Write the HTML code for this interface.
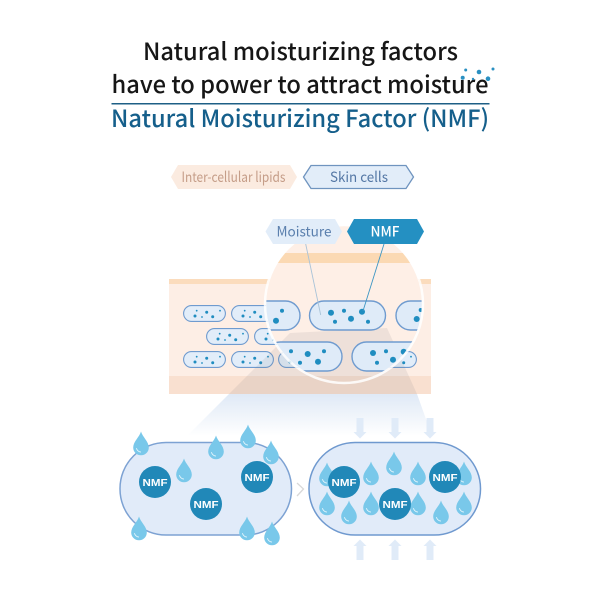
<!DOCTYPE html>
<html><head><meta charset="utf-8">
<style>html,body{margin:0;padding:0;background:#fff}svg{display:block}text{font-family:"Liberation Sans","Noto Sans CJK KR",sans-serif;}
.n,.n text{font-family:"Noto Sans CJK KR","Liberation Sans",sans-serif;}</style>
</head><body>
<svg width="600" height="600" viewBox="0 0 600 600" xmlns="http://www.w3.org/2000/svg">
<defs>
<linearGradient id="beam2" gradientUnits="userSpaceOnUse" x1="0" y1="394" x2="0" y2="436">
<stop offset="0" stop-color="#dfe9f6"/>
<stop offset="1" stop-color="#ffffff"/>
</linearGradient>
<clipPath id="lens"><circle cx="344" cy="304" r="78"/></clipPath>
<symbol id="cell" viewBox="0 0 43 17" overflow="visible">
<rect x=".6" y=".6" width="41.800" height="15.800" rx="7.900" fill="#e2edf9" stroke="#6f9bcf" stroke-width="1.100"/>
<circle cx="13.700" cy="5.700" r=".9" fill="#1f8dc0"/><circle cx="12" cy="11" r="1.500" fill="#1f8dc0"/>
<circle cx="19" cy="12" r=".9" fill="#1f8dc0"/><circle cx="23.700" cy="7.300" r="1.500" fill="#1f8dc0"/>
<circle cx="29.700" cy="11.700" r="1.500" fill="#1f8dc0"/><circle cx="37" cy="5.700" r=".9" fill="#1f8dc0"/>
</symbol>
<symbol id="drop" viewBox="-8 -16 16 24" overflow="visible">
<path d="M0-15.500C1.500-10 7.800-5.500 7.800 0.500A7.800 7.800 0 0 1-7.800 .5C-7.800-5.500-1.500-10 0-15.500Z" fill="#79c8ea"/>
<path d="M-4.500 1.500Q-3.500 4.500-.5 5" fill="none" stroke="#e6f6fc" stroke-width=".9" stroke-linecap="round"/>
</symbol>
<g id="nmf">
<circle r="16" fill="#2188b8"/>
<text y="3.800" text-anchor="middle" font-size="10.500" font-weight="700" fill="#fff" textLength="25" lengthAdjust="spacingAndGlyphs">NMF</text>
</g>
<path id="ar" d="M-3.500 418H3.500V432H6.500L0 438.500-6.500 432H-3.500Z" fill="#e0ebf8"/>
<path id="au" d="M-3.500 560H3.500V546H6.500L0 539.500-6.500 546H-3.500Z" fill="#e0ebf8"/>
</defs>

<!-- Titles -->
<g class="n">
<text x="300.500" y="60" text-anchor="middle" font-size="24" font-weight="500" fill="#161616" textLength="315" lengthAdjust="spacingAndGlyphs">Natural moisturizing factors</text>
<text x="300" y="93" text-anchor="middle" font-size="24" font-weight="500" fill="#161616" textLength="377" lengthAdjust="spacingAndGlyphs">have to power to attract moisture</text>
<text x="300" y="127" text-anchor="middle" font-size="24" font-weight="500" fill="#155f8b" textLength="378" lengthAdjust="spacingAndGlyphs">Natural Moisturizing Factor (NMF)</text>
</g>
<circle cx="465.700" cy="70" r="1.500" fill="#2a90c2"/><circle cx="479" cy="72" r="2.300" fill="#2a90c2"/><circle cx="493" cy="69" r="1.500" fill="#2a90c2"/>
<circle cx="462.700" cy="77.700" r="2" fill="#2a90c2"/><circle cx="473" cy="79" r="1.200" fill="#2a90c2"/><circle cx="488" cy="78.700" r="2.300" fill="#2a90c2"/>
<rect x="111.500" y="103" width="378" height="1.500" fill="#1e5f86"/>

<!-- Legend top -->
<polygon points="171,177 178,165 290,165 297,177 290,189 178,189" fill="#fbebe0"/>
<text class="n" x="233.500" y="182" text-anchor="middle" font-size="14" fill="#c59d88" textLength="104" lengthAdjust="spacingAndGlyphs" style="font-family:'Noto Sans CJK KR',sans-serif">Inter-cellular lipids</text>
<polygon points="303.500,177 311,165.500 406,165.500 413.500,177 406,188.500 311,188.500" fill="#e2edf9" stroke="#6f94bf" stroke-width="1.300"/>
<text x="359" y="182" text-anchor="middle" font-size="14" fill="#5477a5" textLength="58" lengthAdjust="spacingAndGlyphs" style="font-family:'Noto Sans CJK KR',sans-serif">Skin cells</text>

<!-- Skin -->
<rect x="169" y="279" width="262" height="5" fill="#fbdcbd"/>
<rect x="169" y="284" width="262" height="92" fill="#fdeee5"/>
<rect x="169" y="376" width="262" height="18" fill="#f9e0d0"/>

<use href="#cell" x="183" y="305" width="43" height="17"/>
<use href="#cell" x="231" y="305" width="43" height="17"/>
<use href="#cell" x="206" y="328" width="43" height="17"/>
<use href="#cell" x="254" y="328" width="43" height="17"/>
<use href="#cell" x="183" y="351" width="43" height="17"/>
<use href="#cell" x="231" y="351" width="43" height="17"/>
<use href="#cell" x="278" y="351" width="43" height="17"/>
<use href="#cell" x="374" y="351" width="43" height="17"/>

<!-- Lens background -->
<g clip-path="url(#lens)">
<rect x="260" y="226" width="170" height="160" fill="#feefe6"/>
<rect x="260" y="253" width="170" height="10" fill="#fbd9b3"/>
<rect x="260" y="376" width="170" height="10" fill="#f9e0d0"/>
</g>

<!-- Beam -->
<polygon points="290,333 387,328 417,394 229,394" fill="#6b6f7a" fill-opacity=".11"/>
<polygon points="229,394 417,394 432,436 187,436" fill="url(#beam2)"/>

<!-- Lens cells -->
<g clip-path="url(#lens)" fill="#1f8dc0">
<g fill="#dfebf8" stroke="#6f9bcf" stroke-width="1.400">
<rect x="224" y="301" width="76" height="29" rx="14.500"/>
<rect x="309.500" y="301" width="76" height="29" rx="14.500"/>
<rect x="396" y="301" width="76" height="29" rx="14.500"/>
<rect x="266" y="342" width="76" height="29" rx="14.500"/>
<rect x="352" y="342" width="76" height="29" rx="14.500"/>
</g>
<circle cx="282" cy="310.700" r="2"/><circle cx="276" cy="320.700" r="3"/>
<circle cx="331" cy="312.700" r="3"/><circle cx="344" cy="310.700" r="2"/><circle cx="362" cy="311.700" r="3"/>
<circle cx="335" cy="321.700" r="2"/><circle cx="351" cy="318.700" r="3"/><circle cx="368" cy="321.700" r="2"/>
<circle cx="420.700" cy="310" r="2"/><circle cx="416.700" cy="319" r="3"/>
<circle cx="291" cy="351.300" r="2"/><circle cx="307.700" cy="354" r="3"/><circle cx="300" cy="362.700" r="2"/>
<circle cx="318" cy="361.700" r="3"/><circle cx="324" cy="351.300" r="2"/>
<circle cx="373" cy="353" r="3"/><circle cx="386" cy="351.300" r="2"/><circle cx="377" cy="362.700" r="2"/>
<circle cx="393" cy="359.700" r="3"/><circle cx="403.700" cy="351.700" r="3"/>
</g>
<circle cx="344" cy="304" r="79" fill="none" stroke="#fff" stroke-opacity=".85" stroke-width="2.500"/>

<!-- Labels -->
<line x1="305.700" y1="244" x2="320.700" y2="315" stroke="#a9c3d8" stroke-width=".9"/>
<line x1="384" y1="244" x2="363" y2="311" stroke="#3d96c4" stroke-width=".9"/>
<polygon points="265.500,231.500 273,219 335,219 342,231.500 335,244 273,244" fill="#e2edf9"/>
<text x="304" y="236.500" text-anchor="middle" font-size="14" fill="#5a7fad" textLength="55" lengthAdjust="spacingAndGlyphs" style="font-family:'Noto Sans CJK KR',sans-serif">Moisture</text>
<polygon points="347,231.500 354,219 417,219 424,231.500 417,244 354,244" fill="#2490c2"/>
<text x="385" y="236.500" text-anchor="middle" font-size="14" font-weight="500" fill="#fff" textLength="29" lengthAdjust="spacingAndGlyphs" style="font-family:'Noto Sans CJK KR',sans-serif">NMF</text>

<!-- Left capsule -->
<rect x="120" y="442.500" width="171.500" height="92.500" rx="46" fill="#e1ebf9" stroke="#7da2d3" stroke-width="1.500"/>
<use href="#drop" x="133" y="431" width="16" height="24"/>
<use href="#drop" x="208" y="435" width="16" height="24"/>
<use href="#drop" x="240" y="424" width="16" height="24"/>
<use href="#drop" x="263" y="440" width="16" height="24"/>
<use href="#drop" x="176" y="458" width="16" height="24"/>
<use href="#drop" x="131" y="516" width="16" height="24"/>
<use href="#drop" x="239" y="516" width="16" height="24"/>
<use href="#drop" x="264" y="521" width="16" height="24"/>
<use href="#nmf" x="155" y="482"/>
<use href="#nmf" x="206" y="504"/>
<use href="#nmf" x="257" y="477"/>

<path d="M297 483L303.500 489 297 496" fill="none" stroke="#d8d8d8" stroke-width="1.300"/>

<!-- Right capsule -->
<rect x="309" y="442.500" width="171.500" height="92.500" rx="46" fill="#e1ebf9" stroke="#6f99cf" stroke-width="1.500"/>
<use href="#drop" x="319" y="462" width="16" height="24"/>
<use href="#drop" x="319" y="491" width="16" height="24"/>
<use href="#drop" x="341" y="500" width="16" height="24"/>
<use href="#drop" x="363" y="461" width="16" height="24"/>
<use href="#drop" x="386" y="451" width="16" height="24"/>
<use href="#drop" x="363" y="491" width="16" height="24"/>
<use href="#drop" x="410" y="491" width="16" height="24"/>
<use href="#drop" x="410" y="461" width="16" height="24"/>
<use href="#drop" x="433" y="500" width="16" height="24"/>
<use href="#drop" x="456" y="461" width="16" height="24"/>
<use href="#drop" x="456" y="491" width="16" height="24"/>
<use href="#nmf" x="344" y="482"/>
<use href="#nmf" x="395" y="504"/>
<use href="#nmf" x="445" y="477"/>

<use href="#ar" x="360"/><use href="#ar" x="395"/><use href="#ar" x="430"/>
<use href="#au" x="360"/><use href="#au" x="395"/><use href="#au" x="430"/>
</svg>
</body></html>
